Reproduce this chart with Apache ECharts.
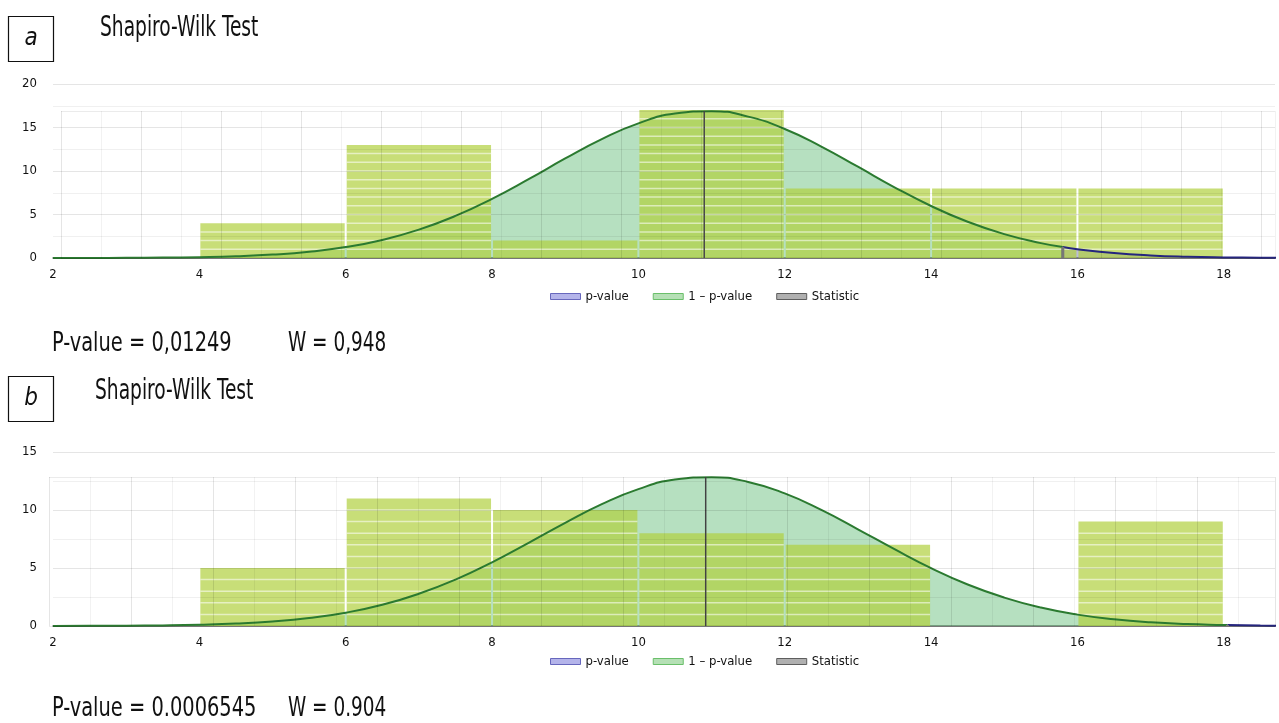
<!DOCTYPE html>
<html>
<head>
<meta charset="utf-8">
<script src="https://cdn.jsdelivr.net/npm/echarts@6/dist/echarts.min.js"></script>
<style>
  html, body { margin: 0; padding: 0; background: #fff; }
  #main { width: 1279px; height: 723px; }
</style>
</head>
<body>
<div id="main"></div>
<script>
// histogram bins (start, end) and counts
var binStart = [4, 6, 8, 10, 12, 14, 16];
var binEnd = [6, 8, 10, 12, 14, 16, 18];
var countsA = [4, 13, 2, 17, 8, 8, 8];
var countsB = [5, 11, 10, 8, 7, 0, 9];

// fitted normal curve
var curveX = [2, 2.5, 3, 3.5, 4, 4.5, 5, 5.5, 6, 6.5, 7, 7.5, 8, 8.5, 9, 9.5, 10, 10.5,
  11, 11.5, 12, 12.5, 13, 13.5, 14, 14.5, 15, 15.5, 16, 16.5, 17, 17.5, 18, 18.5, 19];
var curveA = [0.003, 0.008, 0.02, 0.045, 0.10, 0.20, 0.39, 0.72, 1.26, 2.08, 3.26, 4.84, 6.80, 9.06,
  11.44, 13.67, 15.48, 16.61, 16.88, 16.25, 14.83, 12.81, 10.49, 8.13, 5.98, 4.16, 2.74, 1.71,
  1.01, 0.57, 0.30, 0.15, 0.07, 0.03, 0.014];
var curveB = [0.005, 0.011, 0.025, 0.053, 0.11, 0.21, 0.39, 0.69, 1.15, 1.83, 2.78, 4.00, 5.49, 7.17,
  8.89, 10.50, 11.80, 12.62, 12.83, 12.42, 11.43, 10.01, 8.34, 6.62, 4.99, 3.58, 2.45, 1.59,
  0.98, 0.58, 0.32, 0.17, 0.087, 0.04, 0.019];

// where the p-value tail starts, and the statistic line (mean, peak)
var splitA = [15.8, 1.26];
var splitB = [18.05, 0.08];
var statA = [10.9, 16.9];
var statB = [10.92, 12.84];

var textA = ['P-value = 0,01249', 'W = 0,948'];
var textB = ['P-value = 0.0006545', 'W = 0.904'];

var FONT = '"Liberation Sans Narrow", "DejaVu Sans Condensed", Roboto, sans-serif';

function barData(counts) {
  return binStart.map(function (s, i) { return [s, binEnd[i], counts[i]]; });
}
function greenPart(curve, split) {
  var out = [];
  curveX.forEach(function (x, i) { if (x < split[0]) out.push([x, curve[i]]); });
  out.push(split);
  return out;
}
function bluePart(curve, split) {
  var out = [split];
  curveX.forEach(function (x, i) { if (x > split[0]) out.push([x, curve[i]]); });
  return out;
}

function renderBar(params, api) {
  var s = api.value(0), e = api.value(1), c = api.value(2);
  if (!c) return;
  var p0 = api.coord([s, c]);
  var p1 = api.coord([e, 0]);
  var x = p0[0] + 1, w = p1[0] - p0[0] - 2;
  var children = [{
    type: 'rect',
    shape: { x: x, y: p0[1], width: w, height: p1[1] - p0[1] },
    style: { fill: 'rgba(176,208,62,0.7)' }
  }];
  // thin white stripes at every count unit
  for (var k = 1; k < c; k++) {
    var yy = api.coord([s, k])[1];
    children.push({
      type: 'rect',
      shape: { x: x, y: yy - 0.75, width: w, height: 1.5 },
      style: { fill: 'rgba(255,255,255,0.55)' }
    });
  }
  return { type: 'group', children: children };
}

function panelSeries(ax, counts, curve, split, stat) {
  var g = greenPart(curve, split), b = bluePart(curve, split);
  function line(name, data, z, lineStyle, area) {
    var s = {
      name: name, type: 'line', xAxisIndex: ax, yAxisIndex: ax, z: z,
      data: data, smooth: true, symbol: 'none',
      lineStyle: lineStyle, itemStyle: { color: lineStyle.color }
    };
    if (area) s.areaStyle = { color: area, opacity: 1 };
    return s;
  }
  return [
    line('1 – p-value', g, 1, { color: '#2b7a30', width: 0 }, 'rgba(80,180,105,0.42)'),
    line('p-value', b, 1, { color: '#25257e', width: 0 }, 'rgba(90,90,160,0.4)'),
    {
      type: 'custom', xAxisIndex: ax, yAxisIndex: ax, z: 2,
      renderItem: renderBar, data: barData(counts)
    },
    line('1 – p-value', g, 3, { color: '#2b7a30', width: 2 }),
    line('p-value', b, 3, { color: '#25257e', width: 2 }),
    line('Statistic', [[stat[0], 0], stat], 3, { color: '#4a4a4a', width: 1.5 }),
    line('Statistic', [[split[0], 0], split], 3, { color: '#777', width: 3 })
  ];
}

function mainX(grid) {
  return {
    type: 'value', gridIndex: grid, min: 2, max: 18.7, interval: 2,
    axisLine: { lineStyle: { color: '#6b6b6b', width: 1.5 } },
    axisTick: { show: false }, splitLine: { show: false },
    axisLabel: { fontFamily: FONT, fontSize: 13, color: '#111', margin: 10, showMaxLabel: false }
  };
}
function mainY(grid, max) {
  return {
    type: 'value', gridIndex: grid, min: 0, max: max, interval: 5, z: 4,
    axisLine: { show: false }, axisTick: { show: false },
    axisLabel: { fontFamily: FONT, fontSize: 13, color: '#111', margin: 16 },
    splitLine: { lineStyle: { color: 'rgba(0,0,0,0.1)' } },
    minorTick: { show: false, splitNumber: 2 },
    minorSplitLine: { show: true, lineStyle: { color: 'rgba(0,0,0,0.06)' } }
  };
}
function innerX(grid, width, step) {
  return {
    type: 'value', gridIndex: grid, min: 0, max: width, interval: step, z: 4,
    axisLine: { show: false }, axisTick: { show: false }, axisLabel: { show: false },
    splitLine: { lineStyle: { color: ['rgba(0,0,0,0.1)', 'rgba(0,0,0,0.05)'] } }
  };
}
function innerY(grid, height) {
  return {
    type: 'value', gridIndex: grid, min: 0, max: height, interval: height, z: 4,
    axisLine: { show: false }, axisTick: { show: false }, axisLabel: { show: false },
    splitLine: { lineStyle: { color: 'rgba(0,0,0,0.08)' } }
  };
}

function legendAt(top) {
  return {
    left: 545, top: top, icon: 'rect', itemWidth: 30, itemHeight: 6, itemGap: 24,
    textStyle: { fontFamily: FONT, fontSize: 13, color: '#111' },
    data: [
      { name: 'p-value', itemStyle: { color: '#b4b4ea', borderColor: '#6767bd', borderWidth: 1 } },
      { name: '1 – p-value', itemStyle: { color: '#b5e0b5', borderColor: '#6abf6a', borderWidth: 1 } },
      { name: 'Statistic', itemStyle: { color: '#b0b0b0', borderColor: '#5e5e5e', borderWidth: 1 } }
    ]
  };
}

function label(x, y, text, size, sx) {
  return { type: 'text', x: x, y: y, scaleX: sx,
    style: { text: text, font: size + 'px ' + FONT, fill: '#111', verticalAlign: 'middle' } };
}

function panelGraphics(top, letter, titleX, titleY, textY, texts) {
  return [
    { type: 'rect', shape: { x: 8.5, y: top + 0.5, width: 45, height: 45 },
      style: { fill: '#fff', stroke: '#111', lineWidth: 1.2 } },
    { type: 'text', x: 31, y: top + 23,
      style: { text: letter, font: 'italic 24px ' + FONT, fill: '#111', align: 'center', verticalAlign: 'middle' } },
    label(titleX, titleY, 'Shapiro-Wilk Test', 28, 0.74),
    label(52, textY, texts[0], 27, 0.8),
    label(288, textY, texts[1], 27, 0.76)
  ];
}

var chart = echarts.init(document.getElementById('main'));
var option = {
  backgroundColor: '#fff',
  animation: false,
  grid: [
    { left: 53, right: 4, top: 84, height: 174 },
    { left: 61, right: 4, top: 111, height: 147 },
    { left: 53, right: 4, top: 452, height: 174 },
    { left: 49, right: 4, top: 477, height: 149 }
  ],
  xAxis: [mainX(0), innerX(1, 1214, 40), mainX(2), innerX(3, 1226, 41)],
  yAxis: [mainY(0, 20), innerY(1, 147), mainY(2, 15), innerY(3, 149)],
  legend: [legendAt(285), legendAt(650)],
  graphic: panelGraphics(16, 'a', 100, 29, 344, textA)
    .concat(panelGraphics(376, 'b', 95, 392, 709, textB)),
  series: panelSeries(0, countsA, curveA, splitA, statA)
    .concat(panelSeries(2, countsB, curveB, splitB, statB))
};
chart.setOption(option);
</script>
</body>
</html>
